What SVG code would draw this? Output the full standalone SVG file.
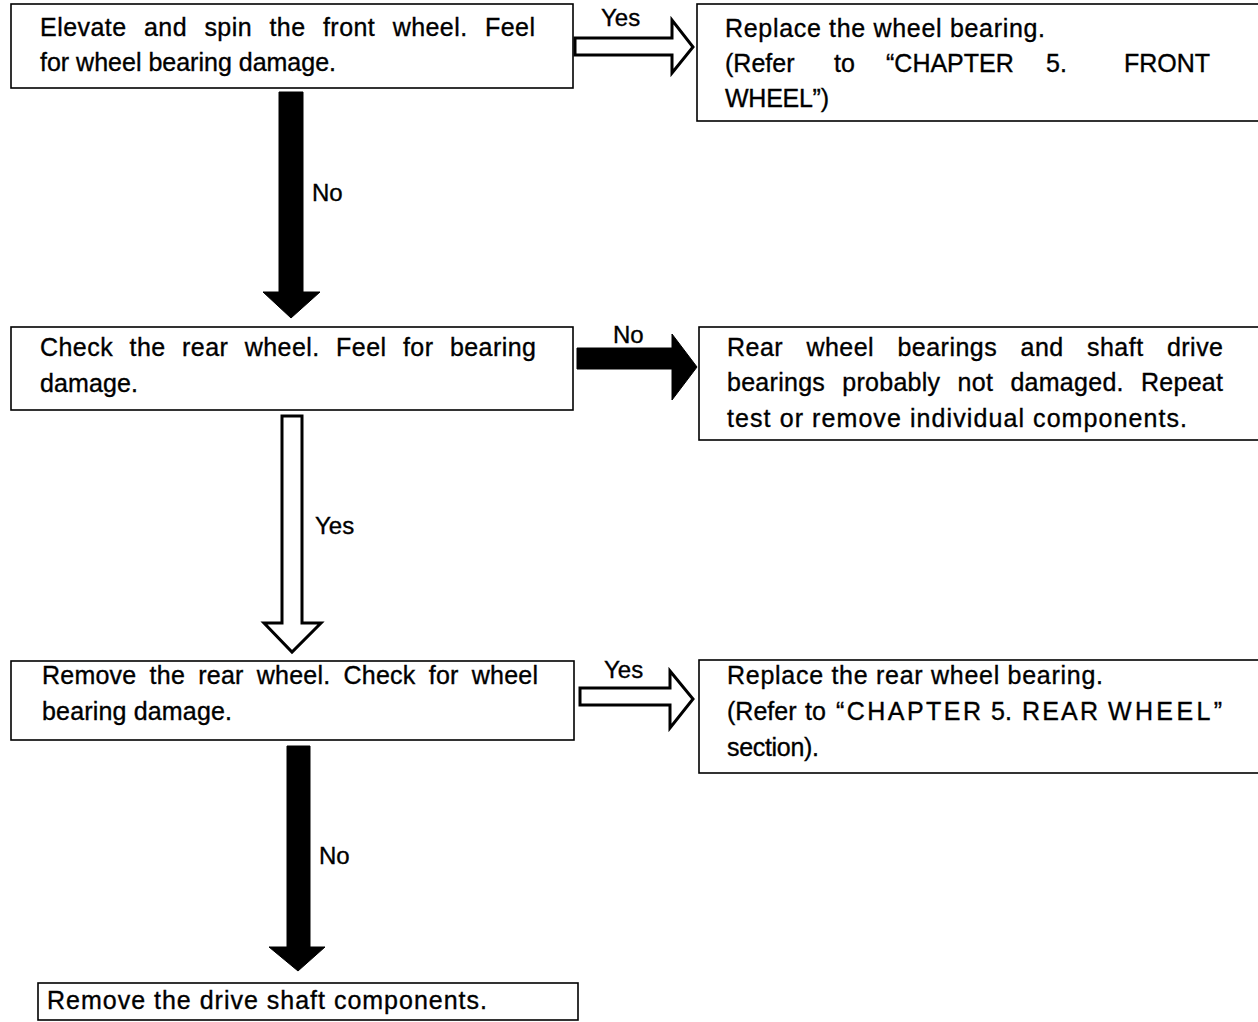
<svg xmlns="http://www.w3.org/2000/svg" width="1258" height="1022" viewBox="0 0 1258 1022">
<style>
.box{fill:#fff;stroke:#000;stroke-width:1.6}
.t{font-family:"Liberation Sans",Arial,sans-serif;font-size:25px;fill:#000;stroke:#000;stroke-width:0.35}
.lbl{font-family:"Liberation Sans",Arial,sans-serif;font-size:24px;fill:#000;stroke:#000;stroke-width:0.35}
.solid{fill:#000;stroke:#000;stroke-width:1}
.hollow{fill:#fff;stroke:#000;stroke-width:3;stroke-linejoin:miter}
</style>
<rect width="1258" height="1022" fill="#fff"/>
<g id="connectors">
<polygon class="hollow" points="575,38 672,38 672,20 693,47 672,73 672,55 575,55"/>
<polygon class="solid" points="279,92 303,92 303,292 320,292 291,318 263,292 279,292"/>
<polygon class="solid" points="577,348 672,348 672,334 697,367 672,400 672,369 577,369"/>
<polygon class="hollow" points="282,416 302,416 302,623 321,623 292,652 264,623 282,623"/>
<polygon class="hollow" points="580,688 670,688 670,671 693,699 670,728 670,705 580,705"/>
<polygon class="solid" points="287,746 310,746 310,947 325,947 298,971 269,947 287,947"/>
<text class="lbl" x="601" y="26">Yes</text>
<text class="lbl" x="312" y="201">No</text>
<text class="lbl" x="613" y="343">No</text>
<text class="lbl" x="315" y="534">Yes</text>
<text class="lbl" x="604" y="678">Yes</text>
<text class="lbl" x="319" y="864">No</text>
</g>
<g id="n1">
<rect class="box" x="11" y="4" width="562" height="84"/>
<text class="t" x="40" y="36" word-spacing="10" textLength="495" lengthAdjust="spacing">Elevate and spin the front wheel. Feel</text>
<text class="t" x="40" y="71">for wheel bearing damage.</text>
</g>
<g id="n2">
<rect class="box" x="697" y="4" width="570" height="117"/>
<text class="t" x="725" y="37" textLength="320" lengthAdjust="spacing">Replace the wheel bearing.</text>
<text class="t" y="72"><tspan x="725">(Refer</tspan><tspan x="834">to</tspan><tspan x="886">“CHAPTER</tspan><tspan x="1046">5.</tspan><tspan x="1124">FRONT</tspan></text>
<text class="t" x="725" y="107" textLength="104" lengthAdjust="spacing">WHEEL”)</text>
</g>
<g id="n3">
<rect class="box" x="11" y="327" width="562" height="83"/>
<text class="t" x="40" y="356" word-spacing="9" textLength="496" lengthAdjust="spacing">Check the rear wheel. Feel for bearing</text>
<text class="t" x="40" y="392" textLength="98" lengthAdjust="spacing">damage.</text>
</g>
<g id="n4">
<rect class="box" x="699" y="327" width="570" height="113"/>
<text class="t" x="727" y="356" word-spacing="16" textLength="496" lengthAdjust="spacing">Rear wheel bearings and shaft drive</text>
<text class="t" x="727" y="391" word-spacing="10" textLength="496" lengthAdjust="spacing">bearings probably not damaged. Repeat</text>
<text class="t" x="727" y="427" textLength="460" lengthAdjust="spacing">test or remove individual components.</text>
</g>
<g id="n5">
<rect class="box" x="11" y="661" width="563" height="79"/>
<text class="t" x="42" y="684" word-spacing="6" textLength="496" lengthAdjust="spacing">Remove the rear wheel. Check for wheel</text>
<text class="t" x="42" y="720" textLength="190" lengthAdjust="spacing">bearing damage.</text>
</g>
<g id="n6">
<rect class="box" x="699" y="660" width="570" height="113"/>
<text class="t" x="727" y="684" textLength="376" lengthAdjust="spacing">Replace the rear wheel bearing.</text>
<text class="t" x="727" y="720">(Refer</text>
<text class="t" x="805" y="720">to</text>
<text class="t" x="836" y="720" textLength="145" lengthAdjust="spacing">“CHAPTER</text>
<text class="t" x="991" y="720">5.</text>
<text class="t" x="1022" y="720" textLength="76" lengthAdjust="spacing">REAR</text>
<text class="t" x="1108" y="720" textLength="114" lengthAdjust="spacing">WHEEL”</text>
<text class="t" x="727" y="756" textLength="92" lengthAdjust="spacing">section).</text>
</g>
<g id="n7">
<rect class="box" x="38" y="983" width="540" height="37"/>
<text class="t" x="47" y="1009" textLength="440" lengthAdjust="spacing">Remove the drive shaft components.</text>
</g>
</svg>
